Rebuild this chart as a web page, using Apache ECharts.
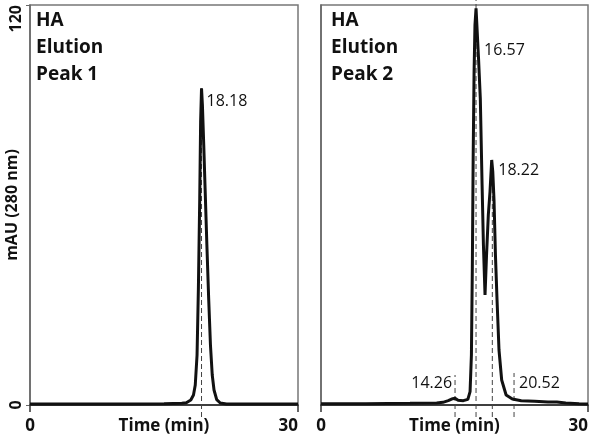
<!DOCTYPE html>
<html>
<head>
<meta charset="utf-8">
<style>
  html, body { margin: 0; padding: 0; background: #fff; }
  #chart { width: 600px; height: 444px; }
</style>
<script src="https://cdn.jsdelivr.net/npm/echarts@6/dist/echarts.min.js"></script>
</head>
<body>
<div id="chart"></div>
<script>
// chromatograms, [time (min), mAU]
var peak1Trace = [
  [0, 0.3], [5, 0.3], [10, 0.3], [15, 0.4], [17, 0.5], [17.5, 0.7], [18.0, 1.5], [18.3, 3],
  [18.5, 6], [18.7, 15], [18.85, 35], [19.0, 62], [19.1, 85], [19.2, 95], [19.3, 90],
  [19.45, 78], [19.6, 65], [19.8, 48], [20.0, 32], [20.2, 18], [20.4, 9], [20.6, 4.5],
  [20.9, 1.6], [21.3, 0.6], [22, 0.3], [26, 0.3], [30, 0.3]
];
var peak2Trace = [
  [0, 0.4], [5, 0.4], [10, 0.5], [13, 0.6], [13.7, 0.8], [14.3, 1.3], [14.8, 1.9], [15.06, 2.0],
  [15.4, 1.4], [16.0, 1.3], [16.5, 1.7], [16.75, 4], [16.9, 15], [17.0, 40], [17.1, 75],
  [17.2, 100], [17.3, 114], [17.42, 119], [17.55, 112], [17.7, 104], [17.9, 92], [18.1, 66],
  [18.25, 48], [18.43, 33], [18.6, 45], [18.8, 57], [18.99, 64], [19.18, 73.5], [19.3, 70],
  [19.44, 61.5], [19.6, 45], [19.78, 31.5], [20.0, 16.5], [20.3, 7.5], [20.8, 3], [21.5, 1.8],
  [22.5, 1.3], [24, 1.1], [25.5, 0.9], [26.5, 0.9], [27.5, 0.6], [29, 0.4], [30, 0.3]
];

// retention time markers
var peak1MarkTimes = [19.2];
var peak1MarkLabels = ['18.18'];
var peak1MarkTops = [95];
var peak2MarkTimes = [15.06, 17.42, 19.25, 21.69];
var peak2MarkLabels = ['14.26', '16.57', '18.22', '20.52'];
var peak2MarkTops = [9, 121.5, 73.5, 9.6];

var panelTitles = ['HA\nElution\nPeak 1', 'HA\nElution\nPeak 2'];
var xTicks = [0, 30];
var yTicks = [0, 120];

var FONT = '"Open Sans", "DejaVu Sans", sans-serif';

function dashSeries(idx, times, tops) {
  return times.map(function (t, i) {
    return {
      type: 'line', xAxisIndex: idx, yAxisIndex: idx, clip: false, silent: true,
      symbol: 'none', z: 1,
      lineStyle: { color: '#444', width: 1, type: [5, 3] },
      data: [[t, -3.6], [t, tops[i]]]
    };
  });
}

// anchor: [y value, side, distance]
function labelData(times, labels, anchors) {
  return times.map(function (t, i) {
    return {
      value: [t, anchors[i][0], labels[i]],
      label: { position: anchors[i][1], distance: anchors[i][2] }
    };
  });
}

function labelSeries(idx, data) {
  return {
    type: 'scatter', xAxisIndex: idx, yAxisIndex: idx, clip: false, silent: true, symbolSize: 0,
    itemStyle: { opacity: 1 },
    label: { show: true, color: '#111', opacity: 1, fontSize: 16, fontFamily: FONT, formatter: function (p) { return p.value[2]; } },
    data: data
  };
}

function xAxisFor(idx) {
  return {
    type: 'value', gridIndex: idx, min: xTicks[0], max: xTicks[1], interval: xTicks[1] - xTicks[0],
    name: 'Time (min)', nameLocation: 'middle', nameGap: 13, nameMoveOverlap: false,
    nameTextStyle: { color: '#111', fontWeight: 'bold', fontSize: 17, fontFamily: FONT, verticalAlign: 'top' },
    axisLine: { lineStyle: { color: '#222', width: 1.5 } },
    axisTick: { show: true, length: 7, lineStyle: { color: '#333', width: 1.5 } },
    axisLabel: { margin: 13, color: '#111', fontWeight: 'bold', fontSize: 17, fontFamily: FONT, alignMaxLabel: 'right' },
    splitLine: { show: false }
  };
}

function yAxisFor(idx) {
  var showLab = idx === 0;
  return {
    type: 'value', gridIndex: idx, min: yTicks[0], max: yTicks[1], interval: yTicks[1] - yTicks[0],
    name: showLab ? 'mAU (280 nm)' : '', nameLocation: 'middle', nameGap: 10, nameMoveOverlap: false,
    nameTextStyle: { color: '#111', fontWeight: 'bold', fontSize: 16, fontFamily: FONT },
    axisLine: { show: true, lineStyle: { color: '#666', width: 1.5 } },
    axisTick: { show: showLab, length: 4, lineStyle: { color: '#666' } },
    axisLabel: { show: showLab, rotate: 90, margin: 6, color: '#111', fontWeight: 'bold', fontSize: 16,
      fontFamily: FONT, alignMaxLabel: 'right' },
    splitLine: { show: false }
  };
}

var series = [
  { type: 'line', xAxisIndex: 0, yAxisIndex: 0, data: peak1Trace, symbol: 'none', z: 3,
    lineStyle: { color: '#111', width: 3 } },
  { type: 'line', xAxisIndex: 1, yAxisIndex: 1, data: peak2Trace, symbol: 'none', z: 3, clip: false,
    lineStyle: { color: '#111', width: 3 } }
].concat(dashSeries(0, peak1MarkTimes, peak1MarkTops))
 .concat(dashSeries(1, peak2MarkTimes, peak2MarkTops))
 .concat([
  labelSeries(0, labelData(peak1MarkTimes, peak1MarkLabels, [[91, 'right', 5]])),
  labelSeries(1, labelData(peak2MarkTimes, peak2MarkLabels,
    [[6.6, 'left', 3], [106.5, 'right', 8], [70.5, 'right', 6], [6.6, 'right', 5]]))
 ]);

var chart = echarts.init(document.getElementById('chart'), null, { renderer: 'canvas' });
chart.setOption({
  animation: false,
  backgroundColor: '#fff',
  title: panelTitles.map(function (t, i) {
    return {
      text: t, left: i === 0 ? 31 : 326, top: 2,
      textStyle: { color: '#111', fontWeight: 'bold', fontSize: 19, lineHeight: 27, fontFamily: FONT }
    };
  }),
  grid: [
    { left: 30, right: 302, top: 5, bottom: 39, outerBoundsMode: 'none', show: true, borderColor: '#777', borderWidth: 1.5, backgroundColor: 'transparent' },
    { left: 321, right: 12, top: 5, bottom: 39, outerBoundsMode: 'none', show: true, borderColor: '#777', borderWidth: 1.5, backgroundColor: 'transparent' }
  ],
  xAxis: [xAxisFor(0), xAxisFor(1)],
  yAxis: [yAxisFor(0), yAxisFor(1)],
  series: series
});
</script>
</body>
</html>
